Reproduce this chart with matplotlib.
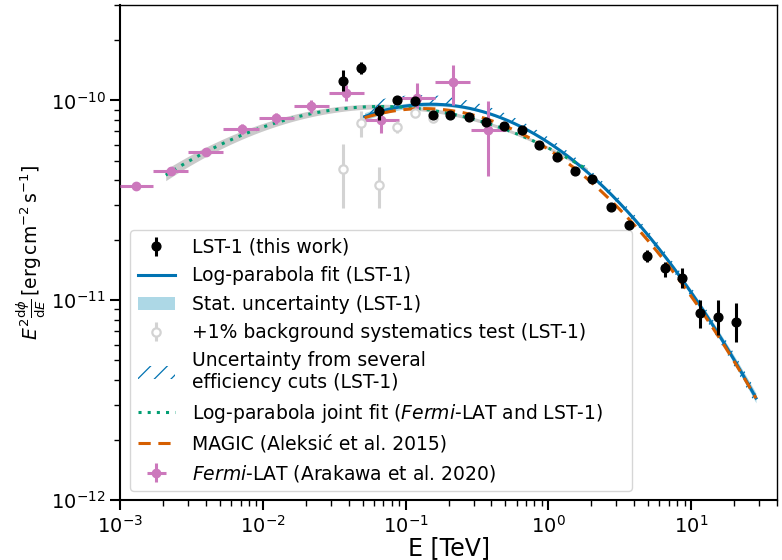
import numpy as np
import matplotlib
matplotlib.use('Agg')
import matplotlib.pyplot as plt

# ---------------- data ----------------
# LST-1 flux points (E in TeV, E^2 dN/dE in erg cm^-2 s^-1)
lst_energy = [0.0365, 0.049, 0.065, 0.0869, 0.117, 0.155, 0.2065, 0.277, 0.366, 0.486, 0.650,
              0.865, 1.151, 1.538, 2.04, 2.74, 3.65, 4.90, 6.55, 8.69, 11.56, 15.45, 20.65]
lst_flux = [1.256e-10, 1.452e-10, 8.81e-11, 1.0e-10, 9.97e-11, 8.48e-11, 8.41e-11, 8.22e-11,
            7.76e-11, 7.41e-11, 7.08e-11, 6.0e-11, 5.18e-11, 4.45e-11, 4.06e-11, 2.94e-11,
            2.38e-11, 1.67e-11, 1.445e-11, 1.288e-11, 8.65e-12, 8.26e-12, 7.8e-12]
lst_flux_lo = [1.11e-10, 1.355e-10, 8.0e-11, 0.955e-10, 0.965e-10, 0.83e-10, 8.25e-11, 8.07e-11,
               7.62e-11, 7.28e-11, 6.95e-11, 5.88e-11, 5.07e-11, 4.35e-11, 3.96e-11, 2.85e-11,
               2.27e-11, 1.56e-11, 1.31e-11, 1.148e-11, 7.28e-12, 6.7e-12, 6.2e-12]
lst_flux_hi = [1.413e-10, 1.556e-10, 9.51e-11, 1.047e-10, 1.03e-10, 0.865e-10, 8.57e-11, 8.37e-11,
               7.9e-11, 7.54e-11, 7.21e-11, 6.12e-11, 5.29e-11, 4.55e-11, 4.16e-11, 3.03e-11,
               2.49e-11, 1.79e-11, 1.56e-11, 1.445e-11, 1.0e-11, 1.0e-11, 9.7e-12]

# +1% background systematics test
bkg_energy = [0.0365, 0.0484, 0.065, 0.0869, 0.1156, 0.155]
bkg_flux = [4.53e-11, 7.71e-11, 3.77e-11, 7.36e-11, 8.65e-11, 8.16e-11]
bkg_flux_lo = [2.89e-11, 6.56e-11, 2.89e-11, 6.87e-11, 8.27e-11, 7.9e-11]
bkg_flux_hi = [6.07e-11, 8.81e-11, 4.64e-11, 7.89e-11, 9.05e-11, 8.43e-11]

# Fermi-LAT (Arakawa et al. 2020)
fermi_energy = [1.288e-3, 2.265e-3, 3.97e-3, 7.10e-3, 1.247e-2, 2.19e-2, 3.85e-2, 6.76e-2,
                0.1208, 0.2143, 0.380]
fermi_e_lo = [1.0e-3, 1.71e-3, 3.0e-3, 5.3e-3, 9.4e-3, 1.65e-2, 2.9e-2, 5.1e-2, 9.1e-2, 0.161, 0.286]
fermi_e_hi = [1.71e-3, 3.0e-3, 5.3e-3, 9.4e-3, 1.65e-2, 2.9e-2, 5.1e-2, 9.0e-2, 0.161, 0.285, 0.504]
fermi_flux = [3.71e-11, 4.45e-11, 5.53e-11, 7.21e-11, 8.12e-11, 9.33e-11, 1.089e-10, 8.0e-11,
              1.028e-10, 1.236e-10, 7.13e-11]
fermi_flux_lo = [3.63e-11, 4.29e-11, 5.28e-11, 6.81e-11, 7.66e-11, 8.6e-11, 9.89e-11, 6.87e-11,
                 8.98e-11, 9.5e-11, 4.2e-11]
fermi_flux_hi = [3.79e-11, 4.62e-11, 5.79e-11, 7.63e-11, 8.6e-11, 1.01e-10, 1.2e-10, 8.98e-11,
                 1.222e-10, 1.51e-10, 9.89e-11]

# Log-parabola models: E^2 dN/dE at 1 TeV (erg cm^-2 s^-1), alpha, beta (log10 form)
lst_norm, lst_alpha, lst_beta = 6.16e-11, 2.466, 0.284
lst_sig_lognorm, lst_sig_alpha, lst_sig_beta = 0.004, 0.008, 0.010
lst_emin, lst_emax = 0.0516, 28.5

eff_norms = [6.53e-11, 6.09e-11]
eff_alphas = [2.479, 2.478]
eff_betas = [0.2706, 0.2905]

magic_norm, magic_alpha, magic_beta = 5.69e-11, 2.467, 0.2675

joint_norm, joint_alpha, joint_beta = 5.78e-11, 2.354, 0.151
joint_sig_lognorm, joint_sig_alpha, joint_sig_beta = 0.008, 0.006, 0.003
joint_emin, joint_emax = 2.09e-3, 1.88

x_major_ticks = [1e-3, 1e-2, 1e-1, 1e0, 1e1]
y_major_ticks = [1e-12, 1e-11, 1e-10]

# ---------------- colours ----------------
c_blue = '#0173B2'
c_green = '#029E73'
c_orange = '#D55E00'
c_pink = '#CC78BC'


def e2dnde(E, norm, alpha, beta):
    t = np.log10(E)
    return norm * 10 ** ((2 - alpha) * t - beta * t ** 2)


def band(E, norm, alpha, beta, sn, sa, sb):
    t = np.log10(E)
    s = np.sqrt(sn ** 2 + (sa * t) ** 2 + (sb * t ** 2) ** 2)
    f = e2dnde(E, norm, alpha, beta)
    return f * 10 ** (-s), f * 10 ** s


plt.rcParams['hatch.linewidth'] = 0.9

fig = plt.figure(figsize=(7.82, 5.60), dpi=100)
ax = fig.add_axes([0.1535, 0.1071, 0.8401, 0.8839])
ax.set_xscale('log')
ax.set_yscale('log')

E_lst = np.logspace(np.log10(lst_emin), np.log10(lst_emax), 300)
E_joint = np.logspace(np.log10(joint_emin), np.log10(joint_emax), 300)

# joint fit band
jlo, jhi = band(E_joint, joint_norm, joint_alpha, joint_beta,
                joint_sig_lognorm, joint_sig_alpha, joint_sig_beta)
ax.fill_between(E_joint, jlo, jhi, color='#bdbdbd', alpha=0.8, lw=0, zorder=1)

# LST stat band
slo, shi = band(E_lst, lst_norm, lst_alpha, lst_beta,
                lst_sig_lognorm, lst_sig_alpha, lst_sig_beta)
h_stat = ax.fill_between(E_lst, slo, shi, color='lightblue', lw=0, zorder=1,
                         label='Stat. uncertainty (LST-1)')

# efficiency cut hatch
eff_curves = [e2dnde(E_lst, n, a, b) for n, a, b in zip(eff_norms, eff_alphas, eff_betas)]
eff_curves.append(e2dnde(E_lst, lst_norm, lst_alpha, lst_beta))
eff_curves = np.array(eff_curves)
h_eff = ax.fill_between(E_lst, eff_curves.min(axis=0), eff_curves.max(axis=0),
                        facecolor='none', edgecolor=c_blue, hatch='//', lw=0, zorder=2,
                        label='Uncertainty from several\nefficiency cuts (LST-1)')

h_fit, = ax.plot(E_lst, e2dnde(E_lst, lst_norm, lst_alpha, lst_beta), color=c_blue, lw=2.2,
                 zorder=3, label='Log-parabola fit (LST-1)')
h_joint, = ax.plot(E_joint, e2dnde(E_joint, joint_norm, joint_alpha, joint_beta), color=c_green,
                   lw=2.2, ls=(0, (1, 2)), zorder=3,
                   label=r'Log-parabola joint fit ($\it{Fermi}$-LAT and LST-1)')
h_magic, = ax.plot(E_lst, e2dnde(E_lst, magic_norm, magic_alpha, magic_beta), color=c_orange,
                   lw=2.2, ls=(0, (4, 2.5)), zorder=3, label='MAGIC (Aleksić et al. 2015)')

# Fermi points
fe = np.array(fermi_energy)
ff = np.array(fermi_flux)
h_fermi = ax.errorbar(fe, ff,
                      xerr=[fe - np.array(fermi_e_lo), np.array(fermi_e_hi) - fe],
                      yerr=[ff - np.array(fermi_flux_lo), np.array(fermi_flux_hi) - ff],
                      fmt='o', ms=6, color=c_pink, elinewidth=2.2, capsize=0, zorder=4,
                      label=r'$\it{Fermi}$-LAT (Arakawa et al. 2020)')

# background test points
be = np.array(bkg_energy)
bf = np.array(bkg_flux)
h_bkg = ax.errorbar(be, bf, yerr=[bf - np.array(bkg_flux_lo), np.array(bkg_flux_hi) - bf],
                    fmt='o', ms=6, mfc='white', mec='lightgray', mew=1.6, color='lightgray',
                    elinewidth=2.2, capsize=0, zorder=4,
                    label='+1% background systematics test (LST-1)')

# LST points
le = np.array(lst_energy)
lf = np.array(lst_flux)
h_lst = ax.errorbar(le, lf, yerr=[lf - np.array(lst_flux_lo), np.array(lst_flux_hi) - lf],
                    fmt='o', ms=6.3, color='black', elinewidth=2.2, capsize=0, zorder=5,
                    label='LST-1 (this work)')

ax.set_xlim(1e-3, 40)
ax.set_ylim(1e-12, 3e-10)
ax.set_xticks(x_major_ticks)
ax.set_yticks(y_major_ticks)
ax.set_xlim(1e-3, 40)
ax.set_ylim(1e-12, 3e-10)

ax.set_xlabel('E [TeV]', fontsize=17, labelpad=0)
ax.set_ylabel(r'$E^2\frac{\mathrm{d}\phi}{\mathrm{d}E}\,[\mathrm{erg\,cm^{-2}\,s^{-1}}]$',
              fontsize=13.5, labelpad=2)
ax.tick_params(axis='both', which='major', labelsize=14, length=7, width=1.5, direction='out')
ax.tick_params(axis='both', which='minor', length=4.5, width=1.0, direction='out',
               labelleft=False, labelbottom=False)
for s in ['left', 'bottom']:
    ax.spines[s].set_linewidth(1.5)
for s in ['top', 'right']:
    ax.spines[s].set_linewidth(1.0)

handles = [h_lst, h_fit, h_stat, h_bkg, h_eff, h_joint, h_magic, h_fermi]
labels = [h.get_label() for h in handles]
ax.legend(handles, labels, loc='lower left', fontsize=13.5, framealpha=0.8,
          handletextpad=0.9, bbox_to_anchor=(0.0152, 0.018, 0.7638, 0.5),
          mode='expand', borderaxespad=0)

fig.savefig('out.png', dpi=100)
